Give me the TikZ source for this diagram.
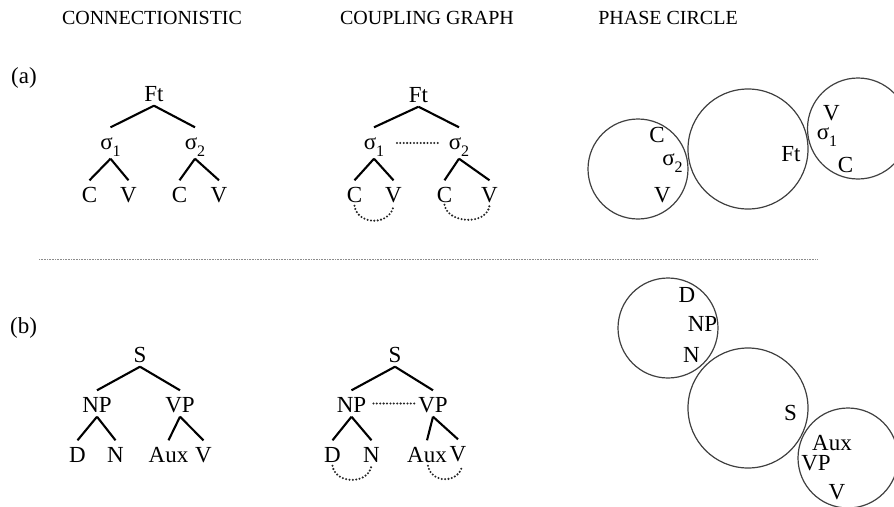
\documentclass[tikz,border=0pt]{standalone}
\usepackage{fontspec}
\setmainfont{Liberation Serif}
\newcommand{\labfont}{\fontsize{23}{27}\selectfont}
\newcommand{\headfont}{\fontsize{20}{24}\selectfont}
\newcommand{\sig}[1]{σ\raisebox{-7pt}{\fontsize{16}{16}\selectfont #1}}
\tikzset{
  lbl/.style={font=\labfont, inner xsep=0pt, inner ysep=4.5pt, text height=17pt, text depth=0pt, anchor=base},
  sg/.style={lbl, text depth=5pt},
  edge/.style={line width=2.1pt},
  coup/.style={line width=2.3pt, dash pattern=on 0pt off 3.4pt, line cap=round, black!85},
  ring/.style={circle, draw=black!75, line width=1.2pt, inner sep=0pt},
  head/.style={font=\headfont, anchor=base, inner sep=0pt},
  plbl/.style={font=\labfont, anchor=base, inner sep=0pt},
  sep/.style={draw=black!45, line width=1pt, dash pattern=on 1pt off 0.6pt}
}
\begin{document}
\begin{tikzpicture}[x=1pt,y=-1pt]
\useasboundingbox (0,0) rectangle (894,506);
% headings
\node[head] (h1) at (152,24) {CONNECTIONISTIC};
\node[head] (h2) at (427,24) {COUPLING GRAPH};
\node[head] (h3) at (668,24) {PHASE CIRCLE};
\node[lbl, anchor=base west] (la) at (11,83) {(a)};
\node[lbl, anchor=base west] (lb) at (10,333) {(b)};
% separator
\coordinate (sepL) at (39,259);
\coordinate (sepR) at (818,259);
\draw[sep] (sepL) -- (sepR);

% ---- tree (a) connectionistic
\node[lbl] (aF) at (154,101) {Ft};
\node[sg] (as1) at (110.5,149) {\sig{1}};
\node[sg] (as2) at (195,149) {\sig{2}};
\node[lbl] (aC1) at (89.5,202) {C};
\node[lbl] (aV1) at (128.5,202) {V};
\node[lbl] (aC2) at (179.5,202) {C};
\node[lbl] (aV2) at (219,202) {V};
\draw[edge] (aF.south) -- (as1.north);
\draw[edge] (aF.south) -- (as2.north);
\draw[edge] (as1.south) -- (aC1.north);
\draw[edge] (as1.south) -- (aV1.north);
\draw[edge] (as2.south) -- (aC2.north);
\draw[edge] (as2.south) -- (aV2.north);

% ---- tree (a) coupling graph
\node[lbl] (bF) at (418.5,102) {Ft};
\node[sg] (bs1) at (374,149) {\sig{1}};
\node[sg] (bs2) at (459,149) {\sig{2}};
\node[lbl] (bC1) at (354.5,202) {C};
\node[lbl] (bV1) at (393.5,202) {V};
\node[lbl] (bC2) at (444.5,202) {C};
\node[lbl] (bV2) at (489.5,202) {V};
\draw[edge] (bF.south) -- (bs1.north);
\draw[edge] (bF.south) -- (bs2.north);
\draw[edge] (bs1.south) -- (bC1.north);
\draw[edge] (bs1.south) -- (bV1.north);
\draw[edge] (bs2.south) -- (bC2.north);
\draw[edge] (bs2.south) -- (bV2.north);
\draw[coup, shorten <=12.5pt, shorten >=8.5pt] (bs1.east) -- (bs2.west);
\draw[coup] ([yshift=1pt]bC1.south) .. controls +(3,20) and +(-3,20) .. ([yshift=1pt]bV1.south);
\draw[coup] ([yshift=2pt]bC2.south) .. controls +(3,19) and +(-3,20) .. ([yshift=1pt]bV2.south);

% ---- phase circles (a)
\node[ring, minimum size=100pt] (pa1) at (638,169) {};
\node[ring, minimum size=120pt] (pa2) at (748,149) {};
\node[ring, minimum size=101pt] (pa3) at (858,128.5) {};
\node[plbl] (pa1C) at (657,142) {C};
\node[plbl] (pa1s) at (672.5,165) {\sig{2}};
\node[plbl] (pa1V) at (662.5,202) {V};
\node[plbl] (pa2F) at (791,161) {Ft};
\node[plbl] (pa3V) at (831.5,120) {V};
\node[plbl] (pa3s) at (827,139) {\sig{1}};
\node[plbl] (pa3C) at (845.5,172) {C};

% ---- tree (b) connectionistic
\node[lbl] (cS) at (140,362) {S};
\node[lbl] (cNP) at (97,412) {NP};
\node[lbl] (cVP) at (180,412) {VP};
\node[lbl] (cD) at (77.5,462) {D};
\node[lbl] (cN) at (115.5,462) {N};
\node[lbl] (cAux) at (168.5,462) {Aux};
\node[lbl] (cV) at (203.5,462) {V};
\draw[edge] (cS.south) -- (cNP.north);
\draw[edge] (cS.south) -- (cVP.north);
\draw[edge] (cNP.south) -- (cD.north);
\draw[edge] (cNP.south) -- (cN.north);
\draw[edge] (cVP.south) -- (cAux.north);
\draw[edge] (cVP.south) -- (cV.north);

% ---- tree (b) coupling graph
\node[lbl] (dS) at (395,362) {S};
\node[lbl] (dNP) at (351.5,412) {NP};
\node[lbl] (dVP) at (433,412) {VP};
\node[lbl] (dD) at (332.5,462) {D};
\node[lbl] (dN) at (371.5,462) {N};
\node[lbl] (dAux) at (427,462) {Aux};
\node[lbl] (dV) at (458,461) {V};
\draw[edge] (dS.south) -- (dNP.north);
\draw[edge] (dS.south) -- (dVP.north);
\draw[edge] (dNP.south) -- (dD.north);
\draw[edge] (dNP.south) -- (dN.north);
\draw[edge] (dVP.south) -- (dAux.north);
\draw[edge] (dVP.south) -- (dV.north);
\draw[coup, shorten <=7pt, shorten >=1pt] (dNP.east) -- (dVP.west);
\draw[coup] ([yshift=1pt]dD.south) .. controls +(3,19) and +(-3,19) .. ([yshift=1pt]dN.south);
\draw[coup] ([xshift=1pt,yshift=1pt]dAux.south) .. controls +(3,18) and +(-3,18) .. ([xshift=4pt]dV.south);

% ---- phase circles (b)
\node[ring, minimum size=100pt] (pb1) at (668,328) {};
\node[ring, minimum size=120pt] (pb2) at (748,408) {};
\node[ring, minimum size=100pt] (pb3) at (848,458) {};
\node[plbl] (pb1D) at (687,302) {D};
\node[plbl] (pb1NP) at (702.5,331) {NP};
\node[plbl] (pb1N) at (691.5,362) {N};
\node[plbl] (pb2S) at (790.5,420) {S};
\node[plbl] (pb3A) at (832,450) {Aux};
\node[plbl] (pb3VP) at (816,470) {VP};
\node[plbl] (pb3V) at (837,499) {V};
\end{tikzpicture}
\end{document}
